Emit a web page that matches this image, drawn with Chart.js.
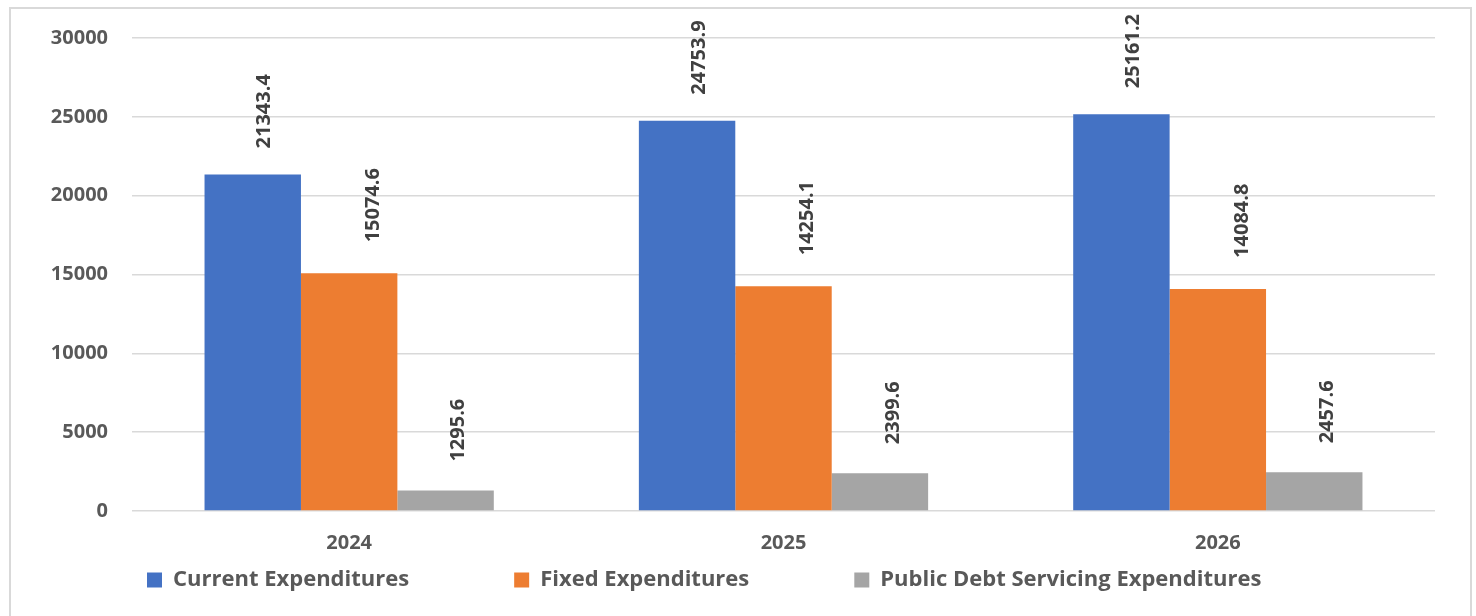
<!DOCTYPE html>
<html>
<head>
<meta charset="utf-8">
<script src="https://cdn.jsdelivr.net/npm/chart.js@4/dist/chart.umd.min.js"></script>
<style>
  html, body { margin: 0; padding: 0; background: #ffffff; overflow: hidden; }
  #wrap { position: relative; width: 1476px; height: 616px; }
  #frame { position: absolute; left: 9px; top: 7px; width: 1463px; height: 640px;
           border: 2px solid #d9d9d9; box-sizing: border-box; }
  #chart { position: absolute; left: 0; top: 0; }
</style>
</head>
<body>
<div id="wrap">
  <div id="frame"></div>
  <canvas id="chart" width="1476" height="616"></canvas>
</div>
<script>
// Budget expenditure by year
const years = ['2024', '2025', '2026'];
const seriesNames = ['Current Expenditures', 'Fixed Expenditures', 'Public Debt Servicing Expenditures'];
const currentExp = [21343.4, 24753.9, 25161.2];
const fixedExp = [15074.6, 14254.1, 14084.8];
const debtServicingExp = [1295.6, 2399.6, 2457.6];
const yTicks = [0, 5000, 10000, 15000, 20000, 25000, 30000];

const colors = ['#4472C4', '#ED7D31', '#A5A5A5'];
const FONT = '"Open Sans", Lato, sans-serif';

// Vertical value labels above each bar (per-series offsets)
const labelOffsetX = [12, 24, 13];
const labelGap = [26, 31, 29];
const barValueLabels = {
  id: 'barValueLabels',
  afterDatasetsDraw(chart) {
    const ctx = chart.ctx;
    chart.data.datasets.forEach((ds, di) => {
      const meta = chart.getDatasetMeta(di);
      meta.data.forEach((bar, i) => {
        ctx.save();
        ctx.translate(bar.x + labelOffsetX[di], bar.y - labelGap[di]);
        ctx.rotate(-Math.PI / 2);
        ctx.font = 'bold 20px ' + FONT;
        ctx.fillStyle = '#404040';
        ctx.textAlign = 'left';
        ctx.textBaseline = 'middle';
        ctx.fillText(ds.data[i].toFixed(1), 0, 0);
        ctx.restore();
      });
    });
  }
};

// labels.padding gives the wide gaps between legend items but also pushes the
// row down inside the legend box; move the box up so the row sits just below
// the year labels, keeping its bottom edge so nothing is clipped.
const LEGEND_ROW_BELOW_AXIS = 5;
const legendRow = {
  id: 'legendRow',
  afterLayout(chart) {
    const lg = chart.legend;
    const xs = chart.scales.x;
    if (!lg || !xs) return;
    const fontSize = lg.options.labels.font.size;
    const itemH = Math.max(fontSize, lg.options.labels.boxHeight);
    const top = xs.bottom + LEGEND_ROW_BELOW_AXIS - itemH / 2 - lg.options.labels.padding;
    lg.top = top;
    lg.bottom = chart.height;
    lg.height = lg.bottom - lg.top;
  }
};

function draw() {
  new Chart(document.getElementById('chart'), {
    type: 'bar',
    data: {
      labels: years,
      datasets: [
        { label: seriesNames[0], data: currentExp, backgroundColor: colors[0] },
        { label: seriesNames[1], data: fixedExp, backgroundColor: colors[1] },
        { label: seriesNames[2], data: debtServicingExp, backgroundColor: colors[2] }
      ]
    },
    options: {
      responsive: false,
      animation: false,
      devicePixelRatio: 1,
      datasets: { bar: { categoryPercentage: 0.666, barPercentage: 1.0, borderWidth: 0 } },
      layout: { padding: { left: 42, right: 41, top: 38, bottom: 1 } },
      scales: {
        x: {
          grid: { display: false, drawTicks: false },
          border: { display: false },
          ticks: { color: '#595959', font: { family: FONT, size: 20, weight: 'bold' }, padding: 20 }
        },
        y: {
          min: yTicks[0],
          max: yTicks[yTicks.length - 1],
          afterFit(scale) { scale.width = 90; },
          afterBuildTicks(scale) { scale.ticks = yTicks.map(v => ({ value: v })); },
          grid: { color: '#d9d9d9', lineWidth: 1.5, drawTicks: false },
          border: { display: false },
          ticks: {
            color: '#595959',
            font: { family: FONT, size: 20, weight: 'bold' },
            padding: 24,
            callback: v => String(v)
          }
        }
      },
      plugins: {
        legend: {
          position: 'bottom',
          align: 'start',
          maxHeight: 40,
          labels: {
            boxWidth: 15,
            boxHeight: 15,
            padding: 105,
            color: '#595959',
            font: { family: FONT, size: 22, weight: 'bold' }
          }
        },
        tooltip: { enabled: false }
      }
    },
    plugins: [barValueLabels, legendRow]
  });
}

if (document.fonts && document.fonts.load) {
  Promise.all([
    document.fonts.load('bold 20px "Open Sans"')
  ]).then(draw, draw);
} else {
  draw();
}
</script>
</body>
</html>
